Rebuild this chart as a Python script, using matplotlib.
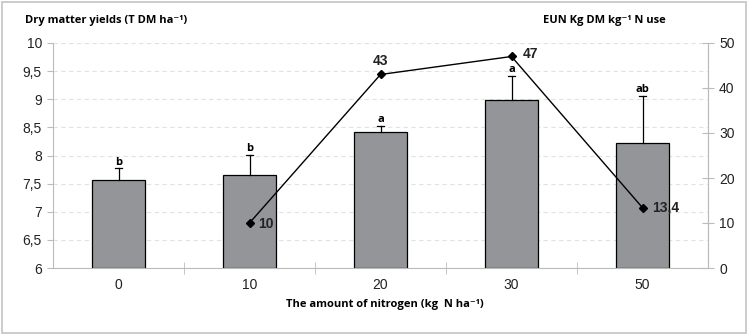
import matplotlib
matplotlib.use("Agg")
import matplotlib.pyplot as plt
from matplotlib.patches import Rectangle
import numpy as np

categories = ["0", "10", "20", "30", "50"]
dm_yield = [7.56, 7.66, 8.42, 8.98, 8.22]
err_up = [0.21, 0.35, 0.11, 0.44, 0.84]
letters = ["b", "b", "a", "a", "ab"]
eun_cats = ["10", "20", "30", "50"]
eun_vals = [10, 43, 47, 13.4]
eun_labels = ["10", "43", "47", "13,4"]

tickfont = "Liberation Sans"
boldfont = ["Open Sans", "DejaVu Sans"]

fig = plt.figure(figsize=(7.5, 3.35), dpi=100)
fig.patches.append(Rectangle((2/750, 2/335), 744/750, 331/335, transform=fig.transFigure,
                             fill=False, edgecolor="#c4c4c4", linewidth=1.2))
ax = fig.add_axes([53/750, 67/335, 655/750, 225/335])
x = np.arange(len(categories))
ax.bar(x, [v - 6 for v in dm_yield], bottom=6, width=0.4, color="#939598",
       edgecolor="black", linewidth=0.9, zorder=2)
for xi, v, e in zip(x, dm_yield, err_up):
    ax.plot([xi, xi], [v, v + e], color="black", linewidth=0.9, zorder=3)
    ax.plot([xi - 0.025, xi + 0.025], [v + e, v + e], color="black", linewidth=0.9, zorder=3)
for xi, v, e, l in zip(x, dm_yield, err_up, letters):
    ax.annotate(l, (xi, v + e), xytext=(0, 0.5), textcoords="offset points", ha="center",
                va="bottom", fontsize=8, fontweight="bold", family=boldfont)
ax.set_ylim(6, 10)
ax.set_xlim(-0.5, len(categories) - 0.5)
ax.set_yticks(np.arange(6, 10.01, 0.5))
ax.set_yticklabels([("%g" % v).replace(".", ",") for v in np.arange(6, 10.01, 0.5)])
ax.set_xticks(x)
ax.set_xticklabels(categories)
ax.set_xticks(np.arange(0.5, len(categories) - 0.5, 1), minor=True)
ax.tick_params(axis="x", which="major", length=0, pad=7)
ax.tick_params(axis="x", which="minor", direction="inout", length=8, color="#bbbbbb")
ax.tick_params(axis="y", direction="out", length=4, color="#bbbbbb", pad=4)
for lab in ax.get_xticklabels() + ax.get_yticklabels():
    lab.set_family(tickfont)
    lab.set_fontsize(10)
    lab.set_color("#222222")
ax.yaxis.grid(True, linestyle=(0, (4, 3)), color="#e2e2e2", linewidth=0.8, zorder=0)
ax.set_axisbelow(True)
ax.spines["top"].set_visible(False)
for s in ["left", "right", "bottom"]:
    ax.spines[s].set_color("#bbbbbb")

ax2 = ax.twinx()
ex = [categories.index(c) for c in eun_cats]
ax2.plot(ex, eun_vals, color="black", linewidth=1.0, marker="D", markersize=4, zorder=4)
ax2.set_ylim(0, 50)
ax2.set_yticks(np.arange(0, 51, 10))
ax2.tick_params(axis="y", direction="inout", length=8, color="#bbbbbb", pad=4)
for lab in ax2.get_yticklabels():
    lab.set_family(tickfont)
    lab.set_fontsize(10)
    lab.set_color("#222222")
for s in ["top", "left", "bottom"]:
    ax2.spines[s].set_visible(False)
ax2.spines["right"].set_color("#bbbbbb")

offsets = [(6, -1), (0, 5), (8, 2), (7, 0)]
has = ["left", "center", "left", "left"]
vas = ["center", "bottom", "center", "center"]
for xi, v, l, off, h, va in zip(ex, eun_vals, eun_labels, offsets, has, vas):
    ax2.annotate(l, (xi, v), xytext=off, textcoords="offset points", ha=h, va=va,
                 fontsize=10, fontweight="bold", family=tickfont, color="#222222")

fig.text(25/750, 1 - 20/335, "Dry matter yields (T DM ha\u207b\u00b9)", fontsize=8, fontweight="bold",
         family=boldfont, va="center", ha="left")
fig.text(666/750, 1 - 20/335, "EUN Kg DM kg\u207b\u00b9 N use", fontsize=8, fontweight="bold",
         family=boldfont, va="center", ha="right")
fig.text(385/750, 1 - 305/335, "The amount of nitrogen (kg  N ha\u207b\u00b9)", fontsize=8,
         fontweight="bold", family=boldfont, va="center", ha="center")
fig.savefig("out.png", dpi=100)
